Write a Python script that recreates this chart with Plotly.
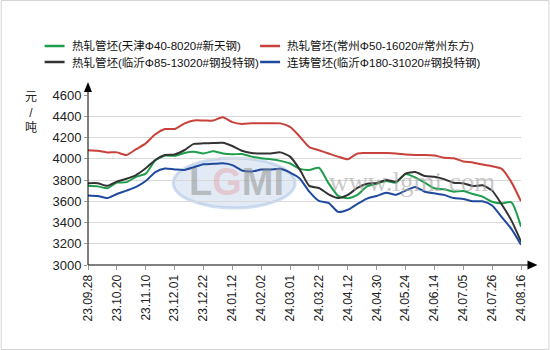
import plotly.graph_objects as go

# ---------------- data ----------------
tick_labels = ["23.09.28", "23.10.20", "23.11.10", "23.12.01", "23.12.22", "24.01.12",
               "24.02.02", "24.03.01", "24.03.22", "24.04.12", "24.04.30", "24.05.24",
               "24.06.14", "24.07.05", "24.07.26", "24.08.16"]

series_names = ["热轧管坯(天津Φ40-8020#新天钢)", "热轧管坯(常州Φ50-16020#常州东方)",
                "热轧管坯(临沂Φ85-13020#钢投特钢)", "连铸管坯(临沂Φ180-31020#钢投特钢)"]

tianjin = [3745, 3740, 3722, 3775, 3780, 3830, 3860, 3985, 4030, 4028, 4055, 4066,
           4050, 4070, 4050, 4042, 4045, 4020, 4005, 3995, 3980, 3955, 3905, 3895,
           3915, 3770, 3650, 3628, 3660, 3740, 3765, 3790, 3775, 3855, 3825, 3775,
           3722, 3712, 3690, 3696, 3668, 3643, 3595, 3580, 3590, 3360]

changzhou = [4080, 4075, 4060, 4060, 4035, 4090, 4145, 4230, 4280, 4280, 4330, 4360,
             4360, 4360, 4390, 4345, 4328, 4335, 4335, 4335, 4333, 4300, 4210, 4110,
             4080, 4050, 4020, 3995, 4050, 4053, 4053, 4053, 4050, 4040, 4035, 4035,
             4030, 4010, 4005, 3975, 3965, 3945, 3930, 3905, 3780, 3600]

linyi_rolled = [3770, 3770, 3745, 3785, 3812, 3847, 3910, 3988, 4035, 4040, 4080, 4140,
                4145, 4148, 4151, 4120, 4075, 4055, 4050, 4050, 4060, 4020, 3900, 3745,
                3725, 3665, 3630, 3660, 3725, 3765, 3772, 3800, 3784, 3860, 3875, 3837,
                3830, 3808, 3775, 3769, 3743, 3750, 3700, 3570, 3420, 3220]

linyi_cast = [3655, 3650, 3630, 3668, 3700, 3735, 3790, 3875, 3908, 3900, 3895, 3920,
              3948, 3952, 3957, 3940, 3890, 3880, 3898, 3900, 3905, 3870, 3815, 3690,
              3603, 3585, 3500, 3520, 3575, 3625, 3650, 3680, 3660, 3700, 3735, 3690,
              3675, 3660, 3630, 3622, 3600, 3600, 3560, 3450, 3340, 3190]

y_ticks = [3000, 3200, 3400, 3600, 3800, 4000, 4200, 4400, 4600]

x_idx = list(range(len(tianjin)))
tick_pos = x_idx[::3]

colors = ["#1e9e4c", "#c9413b", "#333333", "#1f4a9e"]
values = [tianjin, changzhou, linyi_rolled, linyi_cast]

# ---------------- layout geometry ----------------
W, H = 550, 350
L, R, T, B = 87.5, 28.5, 95, 85
PW, PH = W - L - R, H - T - B


def px(xp):
    return (xp - L) / PW


def py(yp):
    return (H - B - yp) / PH


FONT = "Liberation Sans, Arial, Noto Sans CJK SC, sans-serif"

fig = go.Figure()
for name, vals, col in zip(series_names, values, colors):
    fig.add_trace(go.Scatter(x=x_idx, y=vals, mode="lines", name=name,
                             line=dict(color=col, width=2, shape="spline", smoothing=0.6),
                             showlegend=False))

shapes = []
# watermark ellipse
shapes.append(dict(type="circle", xref="paper", yref="paper", layer="below",
                   x0=px(173), x1=px(295), y0=py(208), y1=py(158),
                   fillcolor="rgba(170,195,225,0.35)", line=dict(color="rgba(170,195,225,0.55)", width=3)))
# axis lines with arrows
shapes.append(dict(type="line", xref="paper", yref="paper", x0=0, x1=px(530), y0=0, y1=0,
                   line=dict(color="black", width=1)))
shapes.append(dict(type="line", xref="paper", yref="paper", x0=0, x1=0, y0=0, y1=py(90),
                   line=dict(color="black", width=1)))
shapes.append(dict(type="path", xref="paper", yref="paper", fillcolor="black",
                   line=dict(color="black", width=0),
                   path=f"M {px(528)},{py(260.5)} L {px(538)},{py(265)} L {px(528)},{py(269.5)} Z"))
shapes.append(dict(type="path", xref="paper", yref="paper", fillcolor="black",
                   line=dict(color="black", width=0),
                   path=f"M {px(83.5)},{py(92)} L {px(87.5)},{py(82)} L {px(91.5)},{py(92)} Z"))
# outer border
shapes.append(dict(type="rect", xref="paper", yref="paper",
                   x0=px(0.5), x1=px(549.5), y0=py(349.5), y1=py(0.5),
                   line=dict(color="#d4d4d4", width=1)))

annotations = [
    dict(text="元<br>/<br>吨", xref="paper", yref="paper", x=px(30.5), y=py(112),
         xanchor="center", yanchor="middle", align="center",
         showarrow=False, font=dict(size=12, color="#222", family=FONT)),
    dict(text="<b>L<span style='color:rgba(230,120,120,0.6)'>G</span>MI</b>",
         xref="paper", yref="paper", x=px(236), y=py(182), xanchor="center", yanchor="middle",
         showarrow=False, font=dict(size=38, color="rgba(140,140,140,0.5)", family=FONT)),
    dict(text="www.lgmi.com", xref="paper", yref="paper", x=px(412), y=py(182),
         xanchor="center", yanchor="middle",
         showarrow=False, font=dict(size=27, color="rgba(165,165,165,0.6)",
                                    family="Liberation Serif, DejaVu Serif, serif")),
]

# manual legend: 2 columns x 2 rows
leg_pos = [(44, 46), (260, 46), (44, 62), (260, 62)]
for (lx, ly), name, col in zip(leg_pos, series_names, colors):
    shapes.append(dict(type="line", xref="paper", yref="paper",
                       x0=px(lx), x1=px(lx + 20), y0=py(ly), y1=py(ly),
                       line=dict(color=col, width=2.5)))
    annotations.append(dict(text=name, xref="paper", yref="paper", x=px(lx + 25), y=py(ly),
                            xanchor="left", yanchor="middle", showarrow=False,
                            font=dict(size=11.5, color="#111", family=FONT)))

fig.update_layout(
    width=W, height=H,
    margin=dict(l=L, r=R, t=T, b=B, pad=0),
    paper_bgcolor="white", plot_bgcolor="white",
    font=dict(family=FONT, color="#222"),
    showlegend=False,
    xaxis=dict(range=[0, len(x_idx) - 1], tickmode="array", tickvals=tick_pos, ticktext=tick_labels,
               tickangle=-90, tickfont=dict(size=12, family=FONT, color="#222"),
               showgrid=False, zeroline=False, showline=False,
               ticks="outside", ticklen=4, tickcolor="#999", fixedrange=True),
    yaxis=dict(range=[3000, 4600], tickmode="array", tickvals=y_ticks,
               tickfont=dict(size=13, family=FONT, color="#222"),
               showgrid=True, gridcolor="#d9d9d9", gridwidth=1, zeroline=False, showline=False,
               ticks="outside", ticklen=3, tickcolor="#999", fixedrange=True),
    shapes=shapes,
    annotations=annotations,
)

fig.write_html("out.html")
